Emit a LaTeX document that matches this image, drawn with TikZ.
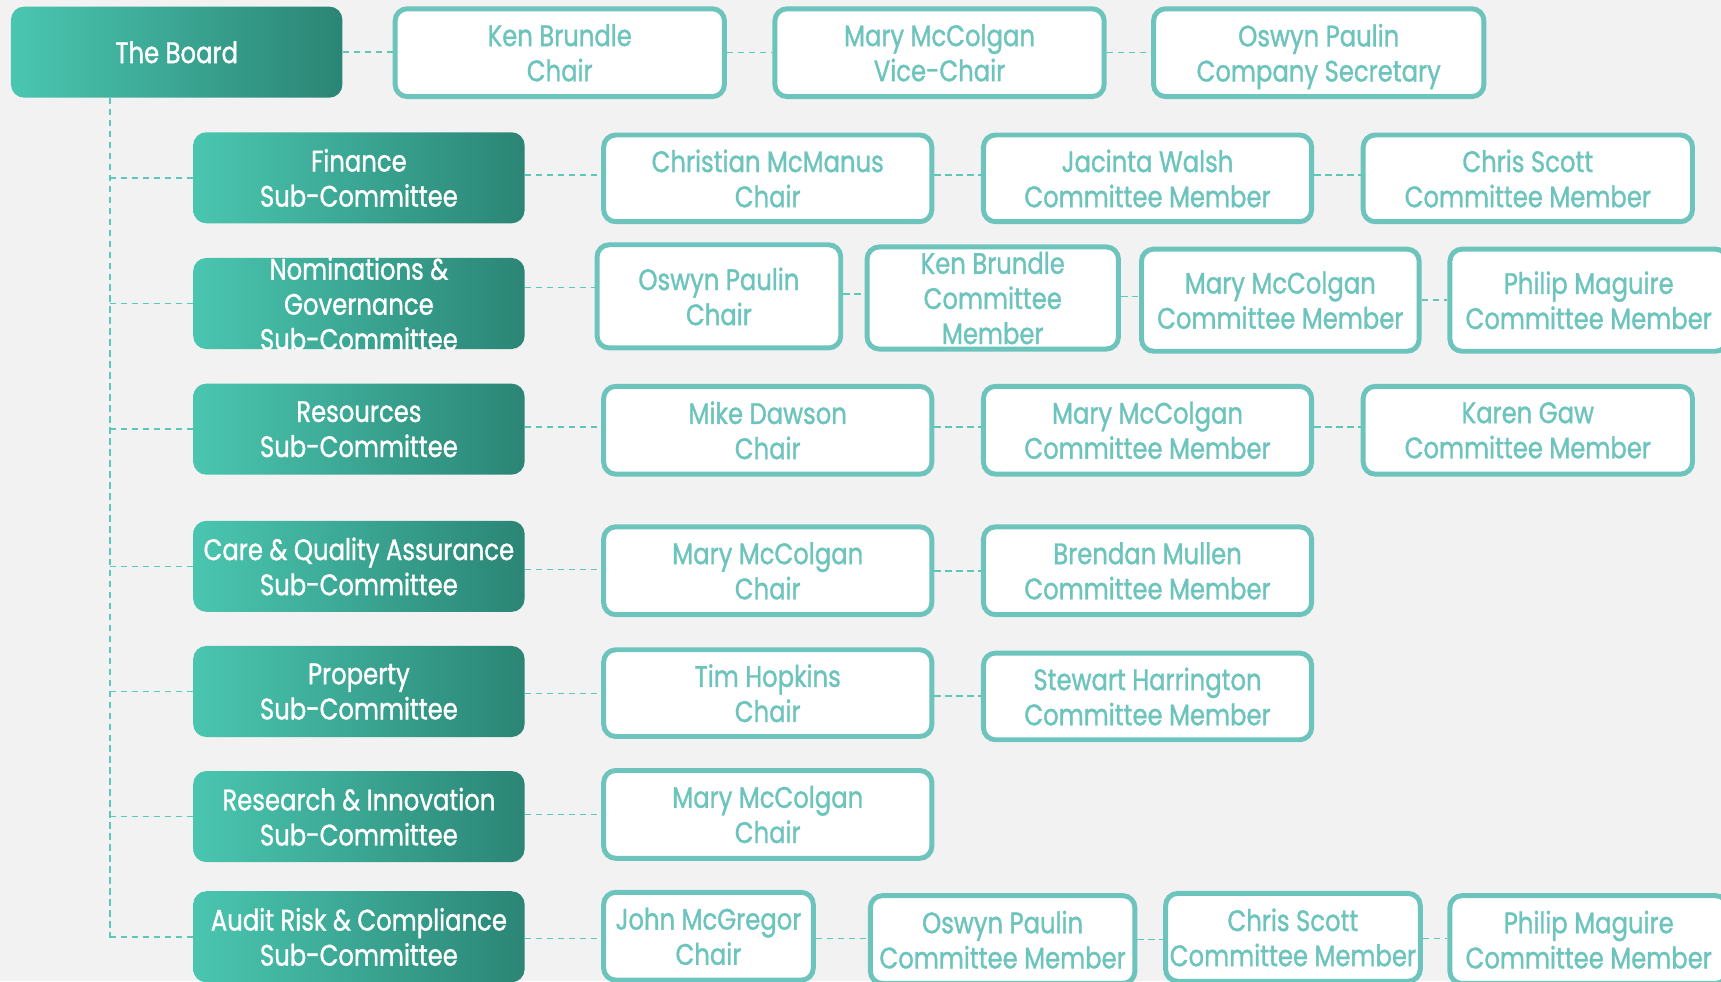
\documentclass[tikz,border=0pt]{standalone}
\usepackage{fontspec}
\setmainfont{Poppins}[FakeStretch=0.82, FakeBold=1.1]
\definecolor{bg}{HTML}{F2F2F2}
\definecolor{tealb}{HTML}{6CC4BD}
\definecolor{gradL}{HTML}{4AC6B0}
\definecolor{gradR}{HTML}{2B8575}
\definecolor{linec}{HTML}{5CC8B8}
\begin{document}
\begin{tikzpicture}[x=1pt,y=-1pt,
  txt/.style={align=center, font=\fontsize{27}{32}\selectfont, inner sep=0pt, text depth=0pt},
  member/.style={txt, draw=tealb, line width=4.5pt, fill=white, rounded corners=11pt, text=tealb},
  subbox/.style={txt, rounded corners=12pt, left color=gradL, right color=gradR, text=white, minimum width=302, minimum height=83},
  conn/.style={draw=linec, line width=1.4pt, dash pattern=on 6pt off 4pt}]
\useasboundingbox (0,0) rectangle (1568,894);
\fill[bg] (0,0) rectangle (1568,894);
\clip (0,0) rectangle (1568,894);

% board and its members
\node[subbox] (board) at (161,47.5) {The Board};
\node[member, minimum width=300, minimum height=80] (b1) at (510,48) {Ken Brundle\\Chair};
\node[member, minimum width=300, minimum height=80] (b2) at (856,48) {Mary McColgan\\Vice-Chair};
\node[member, minimum width=301, minimum height=80] (b3) at (1201.5,48) {Oswyn Paulin\\Company Secretary};

% sub-committees
\node[subbox] (s1) at (327,162) {Finance\\Sub-Committee};
\node[subbox] (s2) at (327,276.5) {};
\node[txt, text=white] (s2t) at (s2) {Nominations \&\\Governance\\Sub-Committee};
\node[subbox] (s3) at (327,391) {Resources\\Sub-Committee};
\node[subbox] (s4) at (327,516) {Care \& Quality Assurance\\Sub-Committee};
\node[subbox] (s5) at (327,630) {Property\\Sub-Committee};
\node[subbox] (s6) at (327,744) {Research \& Innovation\\Sub-Committee};
\node[subbox] (s7) at (327,853.5) {Audit Risk \& Compliance\\Sub-Committee};

% Finance
\node[member, minimum width=299, minimum height=79] (f1) at (699.5,162.5) {Christian McManus\\Chair};
\node[member, minimum width=299, minimum height=79] (f2) at (1045.5,162.5) {Jacinta Walsh\\Committee Member};
\node[member, minimum width=300, minimum height=79] (f3) at (1392,162.5) {Chris Scott\\Committee Member};

% Nominations
\node[member, minimum width=222, minimum height=94] (n1) at (655,270) {Oswyn Paulin\\Chair};
\node[member, minimum width=229, minimum height=93] (n2) at (904.5,271.5) {Ken Brundle\\Committee\\Member};
\node[member, minimum width=253, minimum height=93] (n3) at (1166.5,273.5) {Mary McColgan\\Committee Member};
\node[member, minimum width=253, minimum height=93] (n4) at (1447.5,273.5) {Philip Maguire\\Committee Member};

% Resources
\node[member, minimum width=299, minimum height=80] (r1) at (699.5,392) {Mike Dawson\\Chair};
\node[member, minimum width=299, minimum height=80] (r2) at (1045.5,392) {Mary McColgan\\Committee Member};
\node[member, minimum width=300, minimum height=80] (r3) at (1392,392) {Karen Gaw\\Committee Member};

% Care
\node[member, minimum width=299, minimum height=80] (c1) at (699.5,520) {Mary McColgan\\Chair};
\node[member, minimum width=299, minimum height=80] (c2) at (1045.5,520) {Brendan Mullen\\Committee Member};

% Property
\node[member, minimum width=299, minimum height=79] (p1) at (699.5,631.5) {Tim Hopkins\\Chair};
\node[member, minimum width=299, minimum height=79] (p2) at (1045.5,634.5) {Stewart Harrington\\Committee Member};

% Research
\node[member, minimum width=299, minimum height=80] (q1) at (699.5,742) {Mary McColgan\\Chair};

% Audit
\node[member, minimum width=191, minimum height=80] (a1) at (645.5,853) {John McGregor\\Chair};
\node[member, minimum width=241, minimum height=80] (a2) at (913.5,856) {Oswyn Paulin\\Committee Member};
\node[member, minimum width=232, minimum height=80] (a3) at (1178,854) {Chris Scott\\Committee Member};
\node[member, minimum width=253, minimum height=80] (a4) at (1447.5,856) {Philip Maguire\\Committee Member};

% trunk
\coordinate (trunk) at (100,855);
\draw[conn] (board.south -| trunk) -- (trunk);
\foreach \s in {s1,s2,s3,s4,s5,s6,s7}{\draw[conn] (trunk |- \s.west) -- (\s.west);}

% horizontal connectors
\draw[conn] (board.east) -- (board.east -| b1.west);
\draw[conn] (b1.east) -- (b1.east -| b2.west);
\draw[conn] (b2.east) -- (b2.east -| b3.west);
\draw[conn] ([yshift=2.5pt]s1.east) -- ([yshift=2.5pt]s1.east -| f1.west);
\draw[conn] ([yshift=3pt]f1.east) -- ([yshift=3pt]f1.east -| f2.west);
\draw[conn] ([yshift=3pt]f2.east) -- ([yshift=3pt]f2.east -| f3.west);
\draw[conn] ([yshift=14.5pt]s2.east) -- ([yshift=14.5pt]s2.east -| n1.west);
\draw[conn] ([yshift=2pt]n1.east) -- ([yshift=2pt]n1.east -| n2.west);
\draw[conn] ([yshift=1.5pt]n2.east) -- ([yshift=1.5pt]n2.east -| n3.west);
\draw[conn] (n3.east) -- (n3.east -| n4.west);
\draw[conn] ([yshift=2pt]s3.east) -- ([yshift=2pt]s3.east -| r1.west);
\draw[conn] ([yshift=3pt]r1.east) -- ([yshift=3pt]r1.east -| r2.west);
\draw[conn] ([yshift=3pt]r2.east) -- ([yshift=3pt]r2.east -| r3.west);
\draw[conn] ([yshift=-3pt]s4.east) -- ([yshift=-3pt]s4.east -| c1.west);
\draw[conn] (c1.east) -- (c1.east -| c2.west);
\draw[conn] ([yshift=-2pt]s5.east) -- ([yshift=-2pt]s5.east -| p1.west);
\draw[conn] ([yshift=-2.5pt]p1.east) -- ([yshift=-2.5pt]p1.east -| p2.west);
\draw[conn] ([yshift=2pt]s6.east) -- ([yshift=2pt]s6.east -| q1.west);
\draw[conn] ([yshift=-1.5pt]s7.east) -- ([yshift=-1.5pt]s7.east -| a1.west);
\draw[conn] ([yshift=-2pt]a1.east) -- ([yshift=-2pt]a1.east -| a2.west);
\draw[conn] (a2.east) -- (a2.east -| a3.west);
\draw[conn] ([yshift=-1pt]a3.east) -- ([yshift=-1pt]a3.east -| a4.west);
\end{tikzpicture}
\end{document}
